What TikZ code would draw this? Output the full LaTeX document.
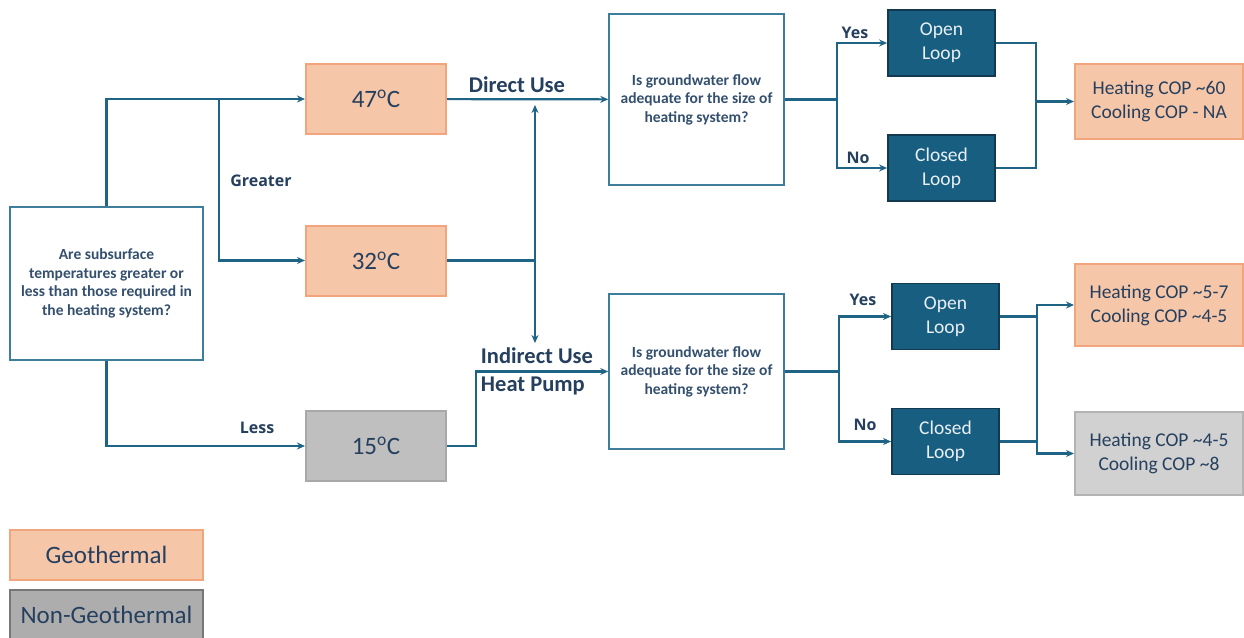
\documentclass[tikz,border=0pt]{standalone}
\usepackage{fontspec}
\setmainfont{Carlito}
\newfontfamily\tagfont{Open Sans}
\usetikzlibrary{arrows.meta}
\definecolor{flowblue}{HTML}{1F6485}
\definecolor{navytext}{HTML}{253F5E}
\definecolor{asktext}{HTML}{34506E}
\definecolor{askedge}{HTML}{3F7D9C}
\definecolor{geofill}{HTML}{F6C6A9}
\definecolor{geoedge}{HTML}{F2A57D}
\definecolor{greyfill}{HTML}{BFBFBF}
\definecolor{greyedge}{HTML}{A8A8A8}
\definecolor{darkgrey}{HTML}{ADADAD}
\definecolor{darkgreyedge}{HTML}{777777}
\definecolor{lightfill}{HTML}{D1D1D1}
\definecolor{lightedge}{HTML}{B3B3B3}
\definecolor{loopfill}{HTML}{175E80}
\definecolor{loopedge}{HTML}{12394F}
\definecolor{looptext}{HTML}{E9EFF4}
\begin{document}
\begin{tikzpicture}
    [x=1pt,y=-1pt,
     flow/.style={-{Stealth[length=8pt,width=7pt]},draw=flowblue,line width=2.2pt},
     wire/.style={draw=flowblue,line width=2.2pt},
     ask/.style={draw=askedge,line width=1.5pt,fill=white,text=asktext,align=center,
       inner sep=0pt,font=\bfseries\fontsize{15.5}{18.5}\selectfont},
     temp/.style={draw=geoedge,line width=2pt,fill=geofill,text=navytext,inner sep=0pt,
       minimum width=140pt,minimum height=70pt,font=\fontsize{25}{28}\selectfont},
     looping/.style={draw=loopedge,line width=1.8pt,fill=loopfill,text=looptext,align=center,
       inner sep=0pt,minimum width=107pt,minimum height=66pt,font=\fontsize{19.5}{24}\selectfont},
     cop/.style={line width=2pt,text=navytext,align=center,inner sep=0pt,
       minimum width=168pt,font=\fontsize{19.5}{24}\selectfont},
     tag/.style={text=navytext,font=\tagfont\bfseries\fontsize{16}{18}\selectfont},
     use/.style={text=navytext,font=\bfseries\fontsize{22.5}{28}\selectfont,align=left}]
  \useasboundingbox (0,0) rectangle (1244,637);

  % question and temperatures
  \node [ask,minimum width=193pt,minimum height=153pt] (Q) at (106.5,283.5)
    {Are subsurface\\temperatures greater or\\less than those required in\\the heating system?};
  \node [temp] (T47) at (376,99) {47\textsuperscript{o}C};
  \node [temp] (T32) at (376,260.5) {32\textsuperscript{o}C};
  \node [temp,draw=greyedge,fill=greyfill] (T15) at (376,446) {15\textsuperscript{o}C};
  \coordinate (g) at (219,99);
  \draw [flow] (Q.north) |- (T47.west);
  \draw [flow] (g) |- (T32.west);
  \draw [flow] (Q.south) |- (T15.west);
  \node [tag] (greater) at (261,181) {Greater};
  \node [tag] (less) at (257,428) {Less};

  % groundwater questions
  \node [ask,minimum width=175pt,minimum height=171pt] (D1) at (696.5,99.5)
    {Is groundwater flow\\adequate for the size of\\heating system?};
  \node [ask,minimum width=175pt,minimum height=155pt] (D2) at (696.5,371.5)
    {Is groundwater flow\\adequate for the size of\\heating system?};
  \coordinate (m) at (535,260.5);
  \coordinate (mu) at (535,105);
  \coordinate (md) at (535,343);
  \draw [flow] (T47) -- (D1);
  \draw [wire] (T32.east) -- (m);
  \draw [flow] (m) -- (mu);
  \draw [flow] (m) -- (md);
  \draw [flow] (T15.east) -- ++(29,0) |- (D2.west);
  \node [use] (direct) at (517,85) {Direct Use};
  \node [use] (indirect) at (537,371) {Indirect Use\\Heat Pump};

  % loops
  \node [looping] (O1) at (941.5,43) {Open\\Loop};
  \node [looping] (C1) at (941.5,168) {Closed\\Loop};
  \node [looping] (O2) at (945.5,316.5) {Open\\Loop};
  \node [looping] (C2) at (945.5,441.5) {Closed\\Loop};
  \draw [flow] (D1.east) -- ++(52,0) |- (O1.west);
  \draw [flow] (D1.east) -- ++(52,0) |- (C1.west);
  \draw [flow] (D2.east) -- ++(54,0) |- (O2.west);
  \draw [flow] (D2.east) -- ++(54,0) |- (C2.west);
  \node [tag] (yes1) at (855,33) {Yes};
  \node [tag] (no1) at (858,158) {No};
  \node [tag] (yes2) at (863,300) {Yes};
  \node [tag] (no2) at (865,425) {No};

  % results
  \node [cop,draw=geoedge,fill=geofill,minimum height=75pt] (R1) at (1159,101.5)
    {Heating COP \textasciitilde60\\Cooling COP - NA};
  \node [cop,draw=geoedge,fill=geofill,minimum height=82pt] (R2) at (1159,305)
    {Heating COP \textasciitilde5-7\\Cooling COP \textasciitilde4-5};
  \node [cop,draw=lightedge,fill=lightfill,minimum height=83pt] (R3) at (1159,453.5)
    {Heating COP \textasciitilde4-5\\Cooling COP \textasciitilde8};
  \coordinate (j1) at (1035,101.5);
  \coordinate (j2) at (1037,380);
  \draw [wire] (O1.east) -- ++(40,0) |- (C1.east);
  \draw [flow] (j1) -- (R1.west);
  \draw [wire] (O2.east) -- ++(38,0);
  \draw [wire] (C2.east) -- ++(38,0);
  \draw [flow] (j2) |- (R2.west);
  \draw [flow] (j2) |- (R3.west);

  % legend
  \node [temp,minimum width=193pt,minimum height=50pt] (geo) at (106.5,555) {Geothermal};
  \node [temp,draw=darkgreyedge,fill=darkgrey,minimum width=193pt,minimum height=50pt]
    (nongeo) at (106.5,615) {Non-Geothermal};
\end{tikzpicture}
\end{document}
